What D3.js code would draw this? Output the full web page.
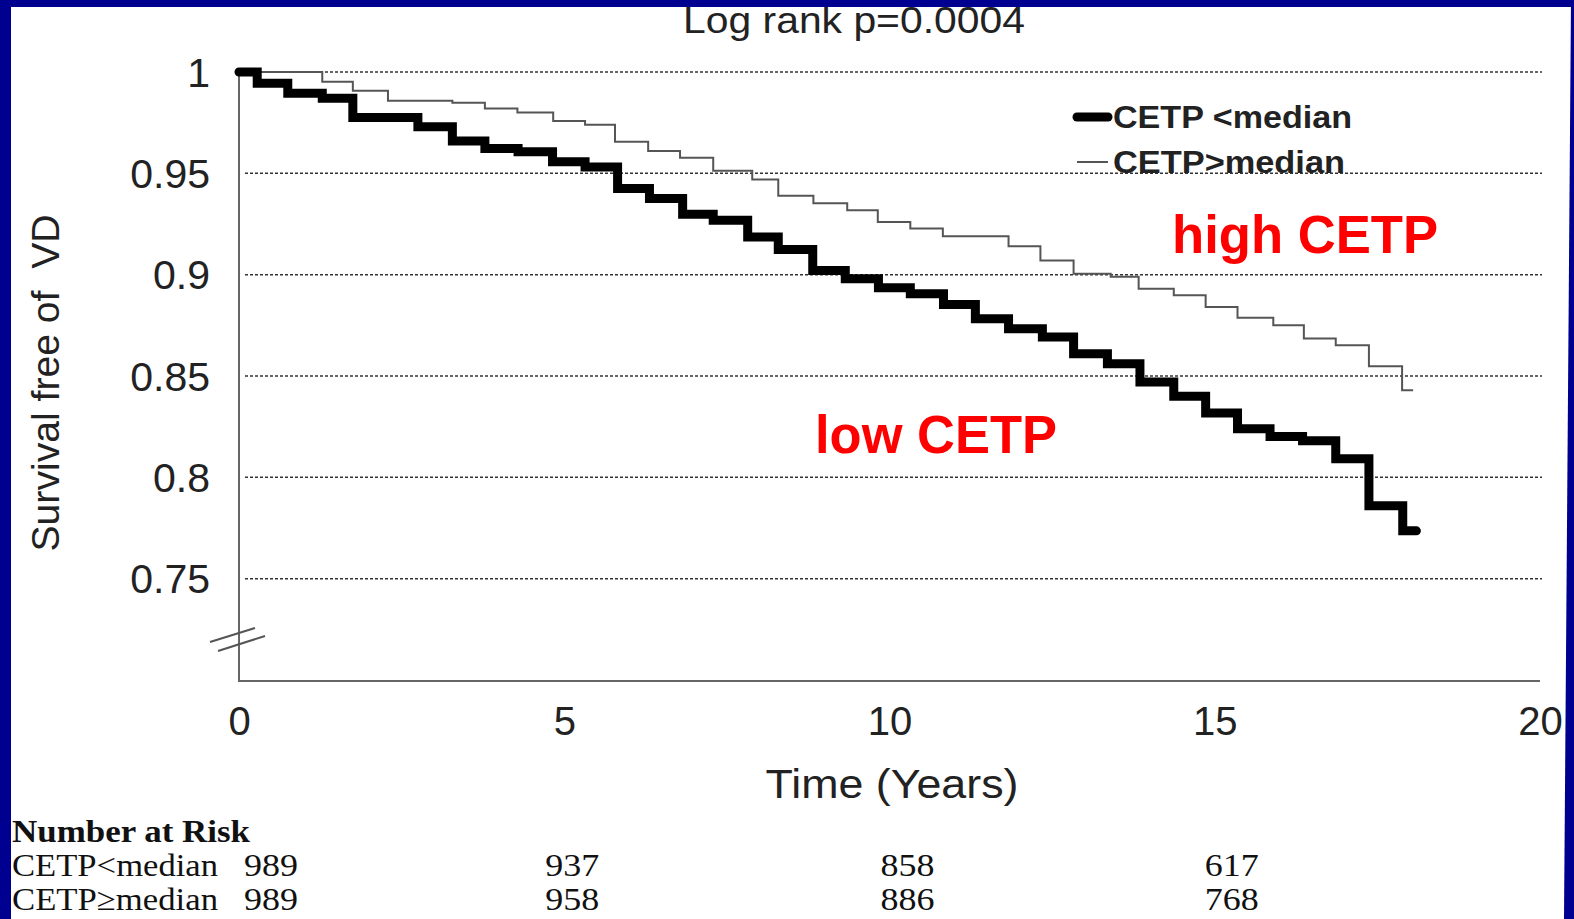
<!DOCTYPE html>
<html>
<head>
<meta charset="utf-8">
<script src="https://cdn.jsdelivr.net/npm/d3@7"></script>
<style>
html,body{margin:0;padding:0;background:#fff;overflow:hidden;}
svg{display:block;}
</style>
</head>
<body>
<svg id="chart" width="1574" height="919"></svg>
<script>
// ---------------- DATA ----------------
const titleText = "Log rank p=0.0004";
const yTickValues = [0.75, 0.8, 0.85, 0.9, 0.95, 1];
const yTickLabels = ["0.75", "0.8", "0.85", "0.9", "0.95", "1"];
const xTickValues = [0, 5, 10, 15, 20];
const xTickLabels = ["0", "5", "10", "15", "20"];
const seriesNames = ["CETP <median", "CETP>median"];

// CETP < median (low CETP) – Kaplan-Meier steps
const lowTime = [0, 0.28, 0.75, 1.28, 1.75, 2.75, 3.28, 3.78, 4.29, 4.82, 5.32, 5.82, 6.31, 6.82, 7.29, 7.82, 8.29, 8.82, 9.32, 9.83, 10.32, 10.83, 11.32, 11.83, 12.35, 12.83, 13.35, 13.85, 14.37, 14.86, 15.35, 15.85, 16.35, 16.86, 17.37, 17.89, 18.1];
const lowSurv = [1.0, 0.9944, 0.9895, 0.987, 0.9776, 0.973, 0.966, 0.9623, 0.9606, 0.9557, 0.9531, 0.9425, 0.9376, 0.9298, 0.9269, 0.9186, 0.9124, 0.902, 0.898, 0.8936, 0.8906, 0.8853, 0.8782, 0.8733, 0.8692, 0.861, 0.856, 0.847, 0.840, 0.8317, 0.824, 0.8202, 0.818, 0.8092, 0.786, 0.7736, 0.7736];

// CETP > median (high CETP)
const highTime = [0, 1.28, 1.75, 2.29, 3.28, 3.78, 4.28, 4.83, 5.32, 5.78, 6.29, 6.78, 7.29, 7.89, 8.29, 8.83, 9.35, 9.82, 10.32, 10.82, 11.83, 12.32, 12.83, 13.4, 13.83, 14.37, 14.86, 15.35, 15.9, 16.37, 16.86, 17.37, 17.88, 18.05];
const highSurv = [1.0, 0.9952, 0.9908, 0.9858, 0.9848, 0.982, 0.980, 0.9758, 0.974, 0.9656, 0.961, 0.9577, 0.9513, 0.947, 0.939, 0.9352, 0.9318, 0.926, 0.9228, 0.919, 0.914, 0.907, 0.9005, 0.899, 0.8931, 0.8898, 0.884, 0.8788, 0.875, 0.8685, 0.8652, 0.8548, 0.843, 0.843];

// Number at risk
const riskTimes = [0, 5, 10, 15];
const riskRowLabels = ["CETP<median", "CETP\u2265median"];
const riskLow = [989, 937, 858, 617];
const riskHigh = [989, 958, 886, 768];

// ---------------- LAYOUT ----------------
const svg = d3.select("#chart");
const W = 1574, H = 919;
svg.append("rect").attr("width", W).attr("height", H).attr("fill", "#fff");

const x = d3.scaleLinear().domain([0, 20]).range([239, 1540]);
const y = d3.scaleLinear().domain([0.70, 1.0]).range([680, 72]);

const sans = "'Liberation Sans', Arial, sans-serif";
const serif = "'Liberation Serif', 'Times New Roman', serif";

// gridlines
svg.append("g").selectAll("line").data(yTickValues).join("line")
  .attr("x1", 245).attr("x2", 1542)
  .attr("y1", d => y(d)).attr("y2", d => y(d))
  .attr("stroke", "#333").attr("stroke-width", 1.5)
  .attr("stroke-dasharray", "3,2");

// axes lines
svg.append("line").attr("x1", x(0)).attr("x2", x(0)).attr("y1", y(1)).attr("y2", 681)
  .attr("stroke", "#666").attr("stroke-width", 2);
svg.append("line").attr("x1", x(0) - 1).attr("x2", x(20)).attr("y1", 681).attr("y2", 681)
  .attr("stroke", "#666").attr("stroke-width", 2);

// axis break mark
const brk = svg.append("g").attr("stroke", "#555").attr("stroke-width", 2);
brk.append("line").attr("x1", 210).attr("y1", 642).attr("x2", 255).attr("y2", 628);
brk.append("line").attr("x1", 218).attr("y1", 651).attr("x2", 265).attr("y2", 636);

// y axis labels
const yAxis = d3.axisLeft(y).tickValues(yTickValues)
  .tickFormat((d, i) => yTickLabels[i]).tickSize(0).tickPadding(29);
const gy = svg.append("g").attr("transform", `translate(${x(0)},0)`).call(yAxis);
gy.select(".domain").remove();
gy.selectAll("text").attr("font-family", sans).attr("font-size", 41).attr("fill", "#222")
  .attr("transform", "translate(0,1)");

// x axis labels
const xAxis = d3.axisBottom(x).tickValues(xTickValues)
  .tickFormat((d, i) => xTickLabels[i]).tickSize(0).tickPadding(26);
const gx = svg.append("g").attr("transform", `translate(0,681)`).call(xAxis);
gx.select(".domain").remove();
gx.selectAll("text").attr("font-family", sans).attr("font-size", 40).attr("fill", "#222");

// curves
const line = d3.line().x(d => x(d[0])).y(d => y(d[1])).curve(d3.curveStepAfter);
const highData = highTime.map((t, i) => [t, highSurv[i]]);
const lowData = lowTime.map((t, i) => [t, lowSurv[i]]);

svg.append("path").datum(highData).attr("d", line)
  .attr("fill", "none").attr("stroke", "#555").attr("stroke-width", 2);
svg.append("path").datum(lowData).attr("d", line)
  .attr("fill", "none").attr("stroke", "#000").attr("stroke-width", 9)
  .attr("stroke-linecap", "round").attr("stroke-linejoin", "miter");

// title
svg.append("text").attr("x", 683).attr("y", 33).text(titleText)
  .attr("font-family", sans).attr("font-size", 36).attr("fill", "#222")
  .attr("textLength", 342).attr("lengthAdjust", "spacingAndGlyphs");

// axis titles
svg.append("text").attr("x", 892).attr("y", 798).attr("text-anchor", "middle")
  .text("Time (Years)").attr("font-family", sans).attr("font-size", 40).attr("fill", "#222")
  .attr("textLength", 253).attr("lengthAdjust", "spacingAndGlyphs");
svg.append("text").attr("transform", "translate(59,383) rotate(-90)")
  .attr("text-anchor", "middle").style("white-space", "pre")
  .text("Survival free of  VD").attr("font-family", sans).attr("font-size", 38).attr("fill", "#222")
  .attr("textLength", 337).attr("lengthAdjust", "spacingAndGlyphs");

// legend
const leg = svg.append("g");
leg.append("line").attr("x1", 1077).attr("x2", 1108).attr("y1", 117).attr("y2", 117)
  .attr("stroke", "#000").attr("stroke-width", 9).attr("stroke-linecap", "round");
leg.append("line").attr("x1", 1077).attr("x2", 1108).attr("y1", 162).attr("y2", 162)
  .attr("stroke", "#555").attr("stroke-width", 2);
leg.append("text").attr("x", 1113).attr("y", 128).text(seriesNames[0])
  .attr("font-family", sans).attr("font-weight", "bold").attr("font-size", 31).attr("fill", "#222")
  .attr("textLength", 239).attr("lengthAdjust", "spacingAndGlyphs");
leg.append("text").attr("x", 1113).attr("y", 173).text(seriesNames[1])
  .attr("font-family", sans).attr("font-weight", "bold").attr("font-size", 31).attr("fill", "#222")
  .attr("textLength", 232).attr("lengthAdjust", "spacingAndGlyphs");

// red annotations
svg.append("text").attr("x", 1172).attr("y", 253).text("high CETP")
  .attr("font-family", sans).attr("font-weight", "bold").attr("font-size", 53).attr("fill", "#ff0000")
  .attr("textLength", 266).attr("lengthAdjust", "spacingAndGlyphs");
svg.append("text").attr("x", 815).attr("y", 453).text("low CETP")
  .attr("font-family", sans).attr("font-weight", "bold").attr("font-size", 53).attr("fill", "#ff0000")
  .attr("textLength", 242).attr("lengthAdjust", "spacingAndGlyphs");

// number at risk table
svg.append("text").attr("x", 12).attr("y", 842).text("Number at Risk")
  .attr("font-family", serif).attr("font-weight", "bold").attr("font-size", 31).attr("fill", "#111")
  .attr("textLength", 238).attr("lengthAdjust", "spacingAndGlyphs");
const rowY = [876, 910];
const riskVals = [riskLow, riskHigh];
const colOffset = [32, 8, 18, 17];
riskRowLabels.forEach((lab, r) => {
  svg.append("text").attr("x", 12).attr("y", rowY[r]).text(lab)
    .attr("font-family", serif).attr("font-size", 32).attr("fill", "#111")
    .attr("textLength", 206).attr("lengthAdjust", "spacingAndGlyphs");
  svg.append("g").selectAll("text").data(riskTimes).join("text")
    .attr("x", (t, i) => x(t) + colOffset[i]).attr("y", rowY[r])
    .attr("text-anchor", "middle")
    .text((t, i) => riskVals[r][i])
    .attr("font-family", serif).attr("font-size", 32).attr("fill", "#111")
    .attr("textLength", 54).attr("lengthAdjust", "spacingAndGlyphs");
});

// blue slide frame
svg.append("rect").attr("x", 0).attr("y", 0).attr("width", W).attr("height", 7).attr("fill", "#000090");
svg.append("rect").attr("x", 0).attr("y", 0).attr("width", 11).attr("height", H).attr("fill", "#000090");
svg.append("polygon").attr("points", "1571,0 1574,0 1574,919 1564,919").attr("fill", "#000090");
</script>
</body>
</html>
